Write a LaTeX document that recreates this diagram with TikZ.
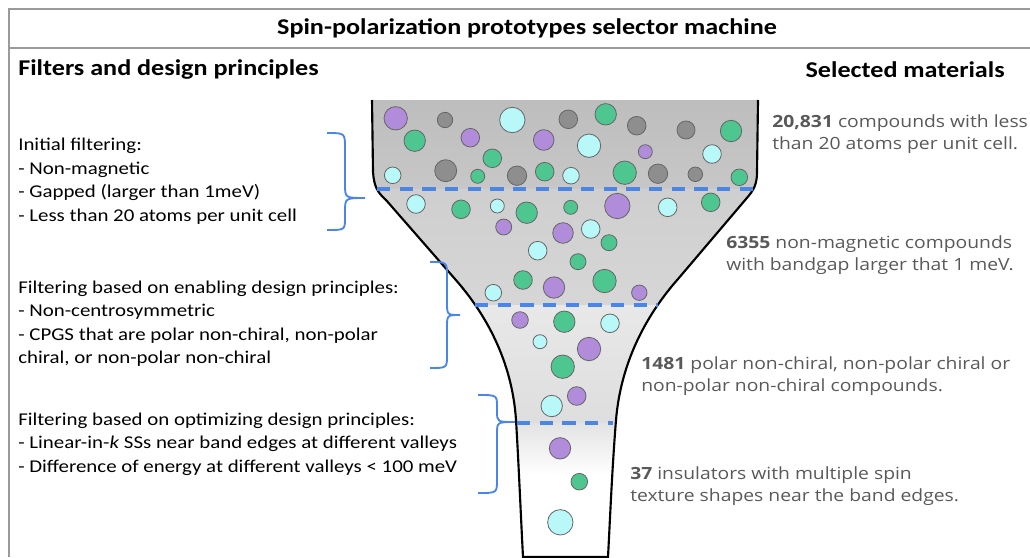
\documentclass[tikz,border=0pt]{standalone}
\usepackage{fontspec}
\setmainfont{Carlito}[FakeStretch=1.16]
\newfontfamily\countfont{Open Sans}[FakeStretch=1.15]
\usetikzlibrary{positioning}

\definecolor{cutblue}{HTML}{4A86E8}
\definecolor{atomviolet}{HTML}{B08CDB}
\definecolor{atomgreen}{HTML}{4DC78F}
\definecolor{atomcyan}{HTML}{B8F8F8}
\definecolor{atomgray}{HTML}{8E8E8E}
\definecolor{countgray}{HTML}{595959}
\definecolor{framegray}{HTML}{9A9A9A}

\newcommand{\funnelpath}{(372,100) -- (373,172) .. controls (374,186) and (377,192) .. (386,200)
  -- (455,279) .. controls (485,313) and (512,360) .. (516,420)
  .. controls (519,470) and (521,520) .. (523,557) -- (608,557)
  .. controls (610,520) and (612,470) .. (616,420)
  .. controls (621,360) and (648,313) .. (678,279) -- (746,199)
  .. controls (754,190) and (757,184) .. (757,172) -- (758,100)}

\tikzset{
  atom/.style={draw=black!60, line width=0.6pt},
  cutline/.style={cutblue, line width=2.3pt, dash pattern=on 10pt off 7pt},
  bracket/.style={cutblue, line width=1.4pt},
  heading/.style={inner sep=0pt, font=\bfseries\fontsize{16.9}{20}\selectfont},
  filtertext/.style={align=left, anchor=west, inner sep=0pt, font=\fontsize{13.5}{17.6}\selectfont},
  counttext/.style={align=left, anchor=west, inner sep=0pt, text=countgray, font=\countfont\fontsize{12.6}{16.5}\selectfont},
}

\begin{document}
\begin{tikzpicture}[x=0.75pt, y=-0.75pt]
    \useasboundingbox (0,0) rectangle (1030,557);

    % Frame
    \draw[framegray, line width=1.2pt] (9,557) -- (9,9) -- (1030,9);
    \draw[framegray, line width=1.2pt] (9,48) -- (1030,48);

    % Headings
    \node[heading] (title) at (527,28) {Spin-polarization prototypes selector machine};
    \node[heading, anchor=west] (filters) at (18,70) {Filters and design principles};
    \node[heading, anchor=east] (selected) at (1005,70) {Selected materials};

    % Funnel body
    \begin{scope}
        \clip \funnelpath;
        \shade[top color=black!26, bottom color=black!22] (360,95) rectangle (770,189);
        \shade[top color=black!19, bottom color=black!16] (360,189) rectangle (770,305);
        \shade[top color=black!9, bottom color=black!13] (360,305) rectangle (770,423);
        \shade[top color=black!11, bottom color=white] (360,423) rectangle (770,475);
    \end{scope}
    \draw[line width=1.6pt] \funnelpath;

    % Compounds
    \foreach \x/\y/\r in {445/120/7.7, 568.3/119.3/9.3, 636.7/125.7/9.3, 686/130/9,
        445.7/170.7/11, 517/175.7/9.7, 658/173.7/9.7, 695.3/174.3/7.3}
        \draw[atom, fill=atomgray] (\x,\y) circle (\r);
    \foreach \x/\y/\r in {395.7/118.3/11.7, 470.3/137.7/9.3, 543.7/140/10.3, 645.3/151.7/7,
        617.3/206/12.7, 503.7/227/8, 563/233/10.3, 554/287.5/10.7, 639.3/292.7/7.7,
        520/320/8.3, 589/349/11.7, 576.7/396/9.3, 560/448.3/10.7}
        \draw[atom, fill=atomviolet] (\x,\y) circle (\r);
    \foreach \x/\y/\r in {605.7/114.3/10.7, 731/131/10.7, 414.7/140.7/10.7, 492.3/158.3/9.3,
        477.7/176.3/7, 544.7/171.7/9.3, 624.7/172.7/11.7, 739.3/177.3/8.3, 461/209.3/9.3,
        526.7/212.7/10.7, 570.7/207.3/7, 710.7/202.3/9.3, 609/242.7/8, 578/261.7/8,
        523/280/9.3, 604.5/281/11.7, 564.3/321.7/10.7, 562.7/366.7/11.7, 579.3/481.7/8.3}
        \draw[atom, fill=atomgreen] (\x,\y) circle (\r);
    \foreach \x/\y/\r in {512.3/120/12.7, 589/145.7/11.7, 712/154/9.3, 392.7/175.3/8.3,
        571/175.7/8.3, 416/204/9.3, 497.3/206/7, 667.7/207.3/9.3, 590.7/229/9.3,
        537.7/250.7/9.3, 493.3/292.7/8.3, 610/323.3/9.3, 540/341.7/7, 551.7/406/10.7,
        560.3/522.3/12.7}
        \draw[atom, fill=atomcyan] (\x,\y) circle (\r);

    % Filter cuts
    \draw[cutline] (377,189) -- (757,189);
    \draw[cutline] (475,305) -- (658,305);
    \draw[cutline] (517,423) -- (613,423);

    % Filters
    \node[filtertext] (initial) at (18,181) {Initial filtering:\\- Non-magnetic\\- Gapped (larger than 1meV)\\- Less than 20 atoms per unit cell};
    \node[filtertext] (enabling) at (18,323.5) {Filtering based on enabling design principles:\\- Non-centrosymmetric\\- CPGS that are polar non-chiral, non-polar\\chiral, or non-polar non-chiral};
    \node[filtertext] (optimizing) at (18,444) {Filtering based on optimizing design principles:\\- Linear-in-\emph{k} SSs near band edges at different valleys\\- Difference of energy at different valleys < 100 meV};

    % Braces
    \draw[bracket] (327,133) .. controls (345,133) .. (345,148) -- (345,184) .. controls (345,198) .. (365,198)
        .. controls (345,198) .. (345,212) -- (345,218) .. controls (345,230) .. (327,230);
    \draw[bracket] (430,262) .. controls (447,262) .. (447,276) -- (447,302) .. controls (447,315) .. (460,315)
        .. controls (447,315) .. (447,328) -- (447,355) .. controls (447,368) .. (430,368);
    \draw[bracket] (478,395) .. controls (497,395) .. (497,407) -- (497,411) .. controls (497,422) .. (515,422)
        .. controls (497,422) .. (497,434) -- (497,480) .. controls (497,493) .. (478,493);

    % Selected materials
    \node[counttext] (all) at (772,134) {\textbf{20,831} compounds with less\\than 20 atoms per unit cell.};
    \node[counttext] (nonmag) at (726,255) {\textbf{6355} non-magnetic compounds\\with bandgap larger that 1 meV.};
    \node[counttext] (cpgs) at (641,376) {\textbf{1481} polar non-chiral, non-polar chiral or\\non-polar non-chiral compounds.};
    \node[counttext] (insul) at (630,486) {\textbf{37} insulators with multiple spin\\texture shapes near the band edges.};
\end{tikzpicture}
\end{document}
